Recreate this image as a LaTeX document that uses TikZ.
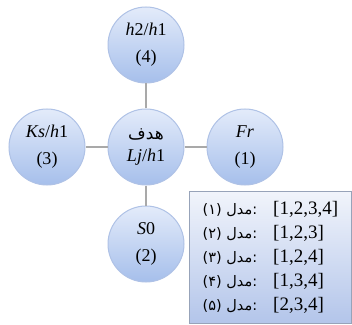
\documentclass[tikz,border=0pt]{standalone}
\usepackage{fontspec}
\setmainfont{Liberation Serif}
\newfontfamily\arabicfont[Script=Arabic]{DejaVu Sans}
\TeXXeTstate=1
\usetikzlibrary{positioning}
\definecolor{balltop}{HTML}{E3EBFA}
\definecolor{ballblue}{HTML}{A6BFEB}
\definecolor{ballrim}{HTML}{AFC2E6}
\definecolor{linkgray}{HTML}{A9A9A9}
\definecolor{boxtop}{HTML}{F1F4FB}
\definecolor{boxbottom}{HTML}{B3C5EA}
\definecolor{boxrim}{HTML}{97A3B9}
\tikzset{
    ball/.style={circle, draw=ballrim, line width=1pt, top color=balltop,
        bottom color=ballblue, minimum size=76pt, inner sep=0pt,
        align=center, font=\fontsize{18}{27}\selectfont},
    link/.style={draw=linkgray, line width=1.2pt},
    legendbox/.style={rectangle, draw=boxrim, line width=0.8pt, top color=boxtop,
        bottom color=boxbottom, minimum width=162pt, minimum height=132pt,
        inner sep=0pt, font=\fontsize{19}{24}\selectfont}
}

\begin{document}
\begin{tikzpicture}[node distance=22pt]
        \useasboundingbox (0,0) rectangle (352pt,324pt);
        \node[ball] (goal) at (146pt,177pt) {{\arabicfont\fontsize{17}{20}\selectfont\beginR هدف\endR}\\[-5pt]\textit{Lj}/\textit{h}1};
        \node[ball, above=25pt of goal] (hratio) {\textit{h}2/\textit{h}1\\(4)};
        \node[ball, left=of goal] (ksratio) {\textit{Ks}/\textit{h}1\\(3)};
        \node[ball, right=of goal] (froude) {\textit{Fr}\\(1)};
        \node[ball, below=20pt of goal] (slope) {\textit{S}0\\(2)};
        \draw[link] (goal) -- (hratio);
        \draw[link] (goal) -- (ksratio);
        \draw[link] (goal) -- (froude);
        \draw[link] (goal) -- (slope);
        \node[legendbox, anchor=north west] (legend) at (189pt,133pt) {%
            \begin{tabular}{@{}l@{\hspace{16pt}}l@{}}
            {\arabicfont\fontsize{14.5}{16}\selectfont (۱) \beginR مدل\endR:} & [1,2,3,4]\\
            {\arabicfont\fontsize{14.5}{16}\selectfont (۲) \beginR مدل\endR:} & [1,2,3]\\
            {\arabicfont\fontsize{14.5}{16}\selectfont (۳) \beginR مدل\endR:} & [1,2,4]\\
            {\arabicfont\fontsize{14.5}{16}\selectfont (۴) \beginR مدل\endR:} & [1,3,4]\\
            {\arabicfont\fontsize{14.5}{16}\selectfont (۵) \beginR مدل\endR:} & [2,3,4]
            \end{tabular}};
    \end{tikzpicture}
\end{document}
